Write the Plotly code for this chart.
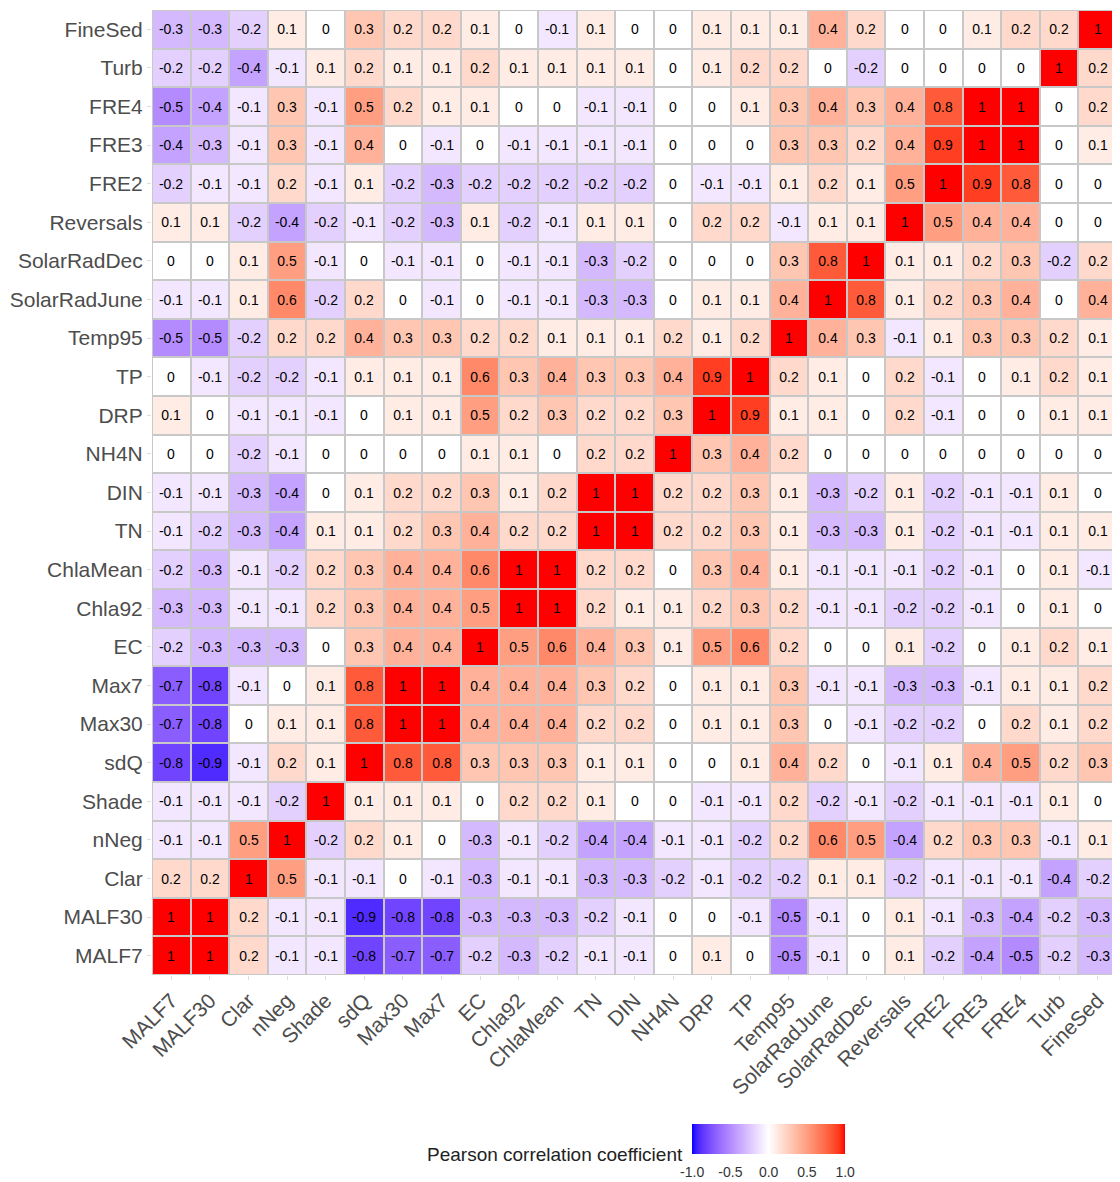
import plotly.graph_objects as go

# ---------------- data ----------------
variables = ["MALF7", "MALF30", "Clar", "nNeg", "Shade", "sdQ", "Max30", "Max7", "EC",
             "Chla92", "ChlaMean", "TN", "DIN", "NH4N", "DRP", "TP", "Temp95",
             "SolarRadJune", "SolarRadDec", "Reversals", "FRE2", "FRE3", "FRE4", "Turb", "FineSed"]

# rows listed top-to-bottom as displayed
row_labels = ["FineSed", "Turb", "FRE4", "FRE3", "FRE2", "Reversals", "SolarRadDec", "SolarRadJune",
              "Temp95", "TP", "DRP", "NH4N", "DIN", "TN", "ChlaMean", "Chla92", "EC", "Max7", "Max30",
              "sdQ", "Shade", "nNeg", "Clar", "MALF30", "MALF7"]

r_FineSed = [-0.3, -0.3, -0.2, 0.1, 0, 0.3, 0.2, 0.2, 0.1, 0, -0.1, 0.1, 0, 0, 0.1, 0.1, 0.1, 0.4, 0.2, 0, 0, 0.1, 0.2, 0.2, 1]
r_Turb = [-0.2, -0.2, -0.4, -0.1, 0.1, 0.2, 0.1, 0.1, 0.2, 0.1, 0.1, 0.1, 0.1, 0, 0.1, 0.2, 0.2, 0, -0.2, 0, 0, 0, 0, 1, 0.2]
r_FRE4 = [-0.5, -0.4, -0.1, 0.3, -0.1, 0.5, 0.2, 0.1, 0.1, 0, 0, -0.1, -0.1, 0, 0, 0.1, 0.3, 0.4, 0.3, 0.4, 0.8, 1, 1, 0, 0.2]
r_FRE3 = [-0.4, -0.3, -0.1, 0.3, -0.1, 0.4, 0, -0.1, 0, -0.1, -0.1, -0.1, -0.1, 0, 0, 0, 0.3, 0.3, 0.2, 0.4, 0.9, 1, 1, 0, 0.1]
r_FRE2 = [-0.2, -0.1, -0.1, 0.2, -0.1, 0.1, -0.2, -0.3, -0.2, -0.2, -0.2, -0.2, -0.2, 0, -0.1, -0.1, 0.1, 0.2, 0.1, 0.5, 1, 0.9, 0.8, 0, 0]
r_Reversals = [0.1, 0.1, -0.2, -0.4, -0.2, -0.1, -0.2, -0.3, 0.1, -0.2, -0.1, 0.1, 0.1, 0, 0.2, 0.2, -0.1, 0.1, 0.1, 1, 0.5, 0.4, 0.4, 0, 0]
r_SolarRadDec = [0, 0, 0.1, 0.5, -0.1, 0, -0.1, -0.1, 0, -0.1, -0.1, -0.3, -0.2, 0, 0, 0, 0.3, 0.8, 1, 0.1, 0.1, 0.2, 0.3, -0.2, 0.2]
r_SolarRadJune = [-0.1, -0.1, 0.1, 0.6, -0.2, 0.2, 0, -0.1, 0, -0.1, -0.1, -0.3, -0.3, 0, 0.1, 0.1, 0.4, 1, 0.8, 0.1, 0.2, 0.3, 0.4, 0, 0.4]
r_Temp95 = [-0.5, -0.5, -0.2, 0.2, 0.2, 0.4, 0.3, 0.3, 0.2, 0.2, 0.1, 0.1, 0.1, 0.2, 0.1, 0.2, 1, 0.4, 0.3, -0.1, 0.1, 0.3, 0.3, 0.2, 0.1]
r_TP = [0, -0.1, -0.2, -0.2, -0.1, 0.1, 0.1, 0.1, 0.6, 0.3, 0.4, 0.3, 0.3, 0.4, 0.9, 1, 0.2, 0.1, 0, 0.2, -0.1, 0, 0.1, 0.2, 0.1]
r_DRP = [0.1, 0, -0.1, -0.1, -0.1, 0, 0.1, 0.1, 0.5, 0.2, 0.3, 0.2, 0.2, 0.3, 1, 0.9, 0.1, 0.1, 0, 0.2, -0.1, 0, 0, 0.1, 0.1]
r_NH4N = [0, 0, -0.2, -0.1, 0, 0, 0, 0, 0.1, 0.1, 0, 0.2, 0.2, 1, 0.3, 0.4, 0.2, 0, 0, 0, 0, 0, 0, 0, 0]
r_DIN = [-0.1, -0.1, -0.3, -0.4, 0, 0.1, 0.2, 0.2, 0.3, 0.1, 0.2, 1, 1, 0.2, 0.2, 0.3, 0.1, -0.3, -0.2, 0.1, -0.2, -0.1, -0.1, 0.1, 0]
r_TN = [-0.1, -0.2, -0.3, -0.4, 0.1, 0.1, 0.2, 0.3, 0.4, 0.2, 0.2, 1, 1, 0.2, 0.2, 0.3, 0.1, -0.3, -0.3, 0.1, -0.2, -0.1, -0.1, 0.1, 0.1]
r_ChlaMean = [-0.2, -0.3, -0.1, -0.2, 0.2, 0.3, 0.4, 0.4, 0.6, 1, 1, 0.2, 0.2, 0, 0.3, 0.4, 0.1, -0.1, -0.1, -0.1, -0.2, -0.1, 0, 0.1, -0.1]
r_Chla92 = [-0.3, -0.3, -0.1, -0.1, 0.2, 0.3, 0.4, 0.4, 0.5, 1, 1, 0.2, 0.1, 0.1, 0.2, 0.3, 0.2, -0.1, -0.1, -0.2, -0.2, -0.1, 0, 0.1, 0]
r_EC = [-0.2, -0.3, -0.3, -0.3, 0, 0.3, 0.4, 0.4, 1, 0.5, 0.6, 0.4, 0.3, 0.1, 0.5, 0.6, 0.2, 0, 0, 0.1, -0.2, 0, 0.1, 0.2, 0.1]
r_Max7 = [-0.7, -0.8, -0.1, 0, 0.1, 0.8, 1, 1, 0.4, 0.4, 0.4, 0.3, 0.2, 0, 0.1, 0.1, 0.3, -0.1, -0.1, -0.3, -0.3, -0.1, 0.1, 0.1, 0.2]
r_Max30 = [-0.7, -0.8, 0, 0.1, 0.1, 0.8, 1, 1, 0.4, 0.4, 0.4, 0.2, 0.2, 0, 0.1, 0.1, 0.3, 0, -0.1, -0.2, -0.2, 0, 0.2, 0.1, 0.2]
r_sdQ = [-0.8, -0.9, -0.1, 0.2, 0.1, 1, 0.8, 0.8, 0.3, 0.3, 0.3, 0.1, 0.1, 0, 0, 0.1, 0.4, 0.2, 0, -0.1, 0.1, 0.4, 0.5, 0.2, 0.3]
r_Shade = [-0.1, -0.1, -0.1, -0.2, 1, 0.1, 0.1, 0.1, 0, 0.2, 0.2, 0.1, 0, 0, -0.1, -0.1, 0.2, -0.2, -0.1, -0.2, -0.1, -0.1, -0.1, 0.1, 0]
r_nNeg = [-0.1, -0.1, 0.5, 1, -0.2, 0.2, 0.1, 0, -0.3, -0.1, -0.2, -0.4, -0.4, -0.1, -0.1, -0.2, 0.2, 0.6, 0.5, -0.4, 0.2, 0.3, 0.3, -0.1, 0.1]
r_Clar = [0.2, 0.2, 1, 0.5, -0.1, -0.1, 0, -0.1, -0.3, -0.1, -0.1, -0.3, -0.3, -0.2, -0.1, -0.2, -0.2, 0.1, 0.1, -0.2, -0.1, -0.1, -0.1, -0.4, -0.2]
r_MALF30 = [1, 1, 0.2, -0.1, -0.1, -0.9, -0.8, -0.8, -0.3, -0.3, -0.3, -0.2, -0.1, 0, 0, -0.1, -0.5, -0.1, 0, 0.1, -0.1, -0.3, -0.4, -0.2, -0.3]
r_MALF7 = [1, 1, 0.2, -0.1, -0.1, -0.8, -0.7, -0.7, -0.2, -0.3, -0.2, -0.1, -0.1, 0, 0.1, 0, -0.5, -0.1, 0, 0.1, -0.2, -0.4, -0.5, -0.2, -0.3]

z = [r_FineSed, r_Turb, r_FRE4, r_FRE3, r_FRE2, r_Reversals, r_SolarRadDec, r_SolarRadJune,
     r_Temp95, r_TP, r_DRP, r_NH4N, r_DIN, r_TN, r_ChlaMean, r_Chla92, r_EC, r_Max7, r_Max30,
     r_sdQ, r_Shade, r_nNeg, r_Clar, r_MALF30, r_MALF7]

colorbar_ticks = [-1.0, -0.5, 0.0, 0.5, 1.0]
colorbar_ticktext = ["-1.0", "-0.5", "0.0", "0.5", "1.0"]
colorbar_title = "Pearson correlation coefficient"

# ---------------- colour scale (Lab interpolation like ggplot gradient2) ----------------
def srgb_to_lin(c):
    c = c / 255.0
    return c / 12.92 if c <= 0.04045 else ((c + 0.055) / 1.055) ** 2.4

def lin_to_srgb(c):
    c = max(0.0, min(1.0, c))
    v = 12.92 * c if c <= 0.0031308 else 1.055 * c ** (1 / 2.4) - 0.055
    return max(0, min(255, round(v * 255)))

WX, WY, WZ = 0.95047, 1.0, 1.08883

def f_lab(t):
    return t ** (1 / 3) if t > 216 / 24389 else (24389 / 27 * t + 16) / 116

def f_inv(t):
    return t ** 3 if t ** 3 > 216 / 24389 else (116 * t - 16) / (24389 / 27)

def rgb_to_lab(rgb):
    r, g, b = [srgb_to_lin(v) for v in rgb]
    X = 0.4124 * r + 0.3576 * g + 0.1805 * b
    Y = 0.2126 * r + 0.7152 * g + 0.0722 * b
    Z = 0.0193 * r + 0.1192 * g + 0.9505 * b
    fx, fy, fz = f_lab(X / WX), f_lab(Y / WY), f_lab(Z / WZ)
    return (116 * fy - 16, 500 * (fx - fy), 200 * (fy - fz))

def lab_to_rgb(lab):
    L, a, bb = lab
    fy = (L + 16) / 116
    fx = fy + a / 500
    fz = fy - bb / 200
    X, Y, Z = WX * f_inv(fx), WY * f_inv(fy), WZ * f_inv(fz)
    r = 3.2406 * X - 1.5372 * Y - 0.4986 * Z
    g = -0.9689 * X + 1.8758 * Y + 0.0415 * Z
    b = 0.0557 * X - 0.2040 * Y + 1.0570 * Z
    return (lin_to_srgb(r), lin_to_srgb(g), lin_to_srgb(b))

low, mid, high = rgb_to_lab((0, 0, 255)), rgb_to_lab((255, 255, 255)), rgb_to_lab((255, 0, 0))
colorscale = []
N = 40
for i in range(N + 1):
    t = i / N
    if t <= 0.5:
        s = t / 0.5
        lab = tuple(low[k] + (mid[k] - low[k]) * s for k in range(3))
    else:
        s = (t - 0.5) / 0.5
        lab = tuple(mid[k] + (high[k] - mid[k]) * s for k in range(3))
    r, g, b = lab_to_rgb(lab)
    colorscale.append([t, f"rgb({r},{g},{b})"])

text = [[f"{v:g}" for v in row] for row in z]

fig = go.Figure(go.Heatmap(
    z=z, x=variables, y=row_labels,
    zmin=-1, zmax=1, colorscale=colorscale,
    text=text, texttemplate="%{text}",
    textfont=dict(family="Liberation Sans, Arial", size=14, color="black"),
    xgap=2, ygap=2,
    hoverinfo="skip",
    colorbar=dict(
        orientation="h",
        lenmode="pixels", len=153, thickness=30,
        x=0.639, xanchor="center", y=-0.154, yanchor="top",
        xpad=0, ypad=0,
        outlinewidth=0,
        tickvals=colorbar_ticks, ticktext=colorbar_ticktext,
        ticks="outside", ticklen=7, tickcolor="white", tickwidth=1,
        tickfont=dict(family="Liberation Sans, Arial", size=14, color="#333333"),
    ),
))

fig.add_annotation(
    text=colorbar_title, xref="paper", yref="paper",
    x=0.5523, y=-0.186, xanchor="right", yanchor="middle", showarrow=False,
    font=dict(family="Liberation Sans, Arial", size=19, color="#222222"),
)

# page body has an 8px margin, so the figure is sized/offset to compensate
fig.update_layout(
    width=1112, height=1174,
    margin=dict(l=144, r=3, t=2, b=205),
    plot_bgcolor="#c8c8c8", paper_bgcolor="white",
    font=dict(family="Liberation Sans, Arial"),
)
fig.update_xaxes(
    tickangle=-45, showgrid=False, zeroline=False,
    tickfont=dict(size=21, color="#4d4d4d"),
    ticks="outside", ticklen=4, tickcolor="#dddddd",
)
fig.update_yaxes(
    autorange="reversed", showgrid=False, zeroline=False,
    tickfont=dict(size=21, color="#4d4d4d"),
    ticks="outside", ticklen=4, tickcolor="#dddddd",
)

fig.write_html("out.html")
